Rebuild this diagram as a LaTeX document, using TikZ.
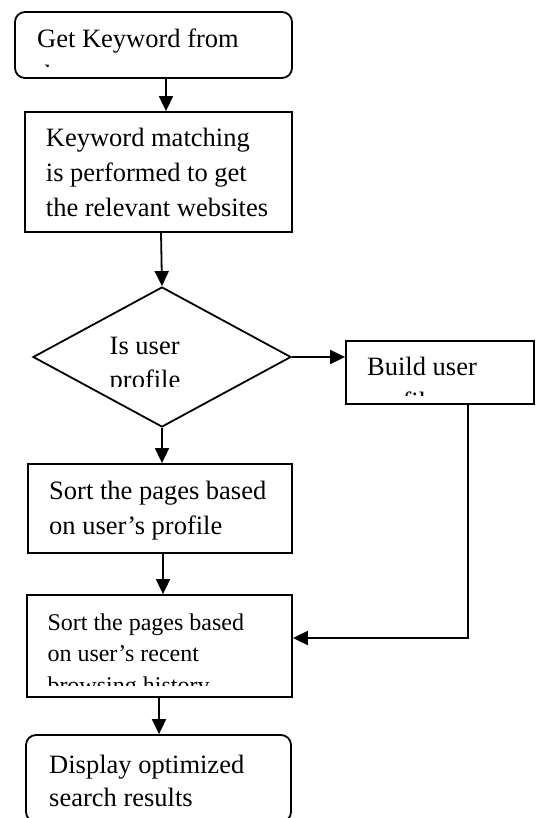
\documentclass[tikz,border=0pt]{standalone}
\usepackage{fontspec}
\setmainfont{Liberation Serif}
\usetikzlibrary{arrows.meta,shapes.geometric}
\begin{document}
\begin{tikzpicture}[x=1pt,y=-1pt,
  box/.style={draw, line width=1.8pt, inner sep=0pt, rectangle},
  rbox/.style={box, rounded corners=10pt},
  dia/.style={draw, diamond, line width=1.8pt, inner sep=0pt},
  txt/.style={inner sep=0pt, anchor=base west, font=\fontsize{26.5}{30}\selectfont},
  stxt/.style={txt, font=\fontsize{24}{28}\selectfont},
  arr/.style={line width=1.8pt, -{Triangle[length=15pt,width=14pt]}}]
\clip (0,0) rectangle (536,818);
\fill[white] (0,0) rectangle (536,818);

% boxes
\node[rbox, minimum width=277pt, minimum height=66pt] (b1) at (153.5,45) {};
\node[box, minimum width=267pt, minimum height=120pt] (b2) at (158.5,172) {};
\node[dia, minimum width=258pt, minimum height=140pt] (d) at (162,357) {};
\node[box, minimum width=188pt, minimum height=63pt] (bu) at (440,372.5) {};
\node[box, minimum width=264pt, minimum height=89pt] (b3) at (160,508.5) {};
\node[box, minimum width=265pt, minimum height=102pt] (b4) at (159.5,646) {};
\node[rbox, minimum width=265pt, minimum height=87pt] (b5) at (158.5,778.5) {};

% texts
\node[txt] (t1a) at (37,48) {Get Keyword from};
\begin{scope}
  \clip (20,20) rectangle (280,67);
  \node[txt] (t1b) at (37,84) {the user};
\end{scope}
\node[txt] (t2a) at (45.7,146.7) {Keyword matching};
\node[txt] (t2b) at (45.7,182) {is performed to get};
\node[txt] (t2c) at (45.7,217) {the relevant websites};
\node[txt] (tda) at (109.5,354) {Is user};
\begin{scope}
  \clip (60,300) rectangle (260,386);
  \node[txt] (tdb) at (109.5,388.5) {profile};
\end{scope}
\node[txt] (tua) at (367,375.7) {Build user};
\begin{scope}
  \clip (350,345) rectangle (525,395.5);
  \node[txt] (tub) at (367,410.7) {profile};
\end{scope}
\node[txt] (t3a) at (49,499) {Sort the pages based};
\node[txt] (t3b) at (49,534) {on user’s profile};
\node[stxt] (t4a) at (47.3,630) {Sort the pages based};
\node[stxt] (t4b) at (47.3,661.8) {on user’s recent};
\begin{scope}
  \clip (30,600) rectangle (285,685);
  \node[stxt] (t4c) at (47.3,693.5) {browsing history};
\end{scope}
\node[txt] (t5a) at (49,773) {Display optimized};
\node[txt] (t5b) at (49,806) {search results};

% connectors
\draw[arr] ([xshift=12.5pt]b1.south) -- ([xshift=7.5pt]b2.north);
\draw[arr] ([xshift=2.5pt]b2.south) -- (d.north);
\draw[arr] (d.east) -- (d.east -| bu.west);
\draw[arr] (d.south) -- (d.south |- b3.north);
\draw[arr] ([xshift=3pt]b3.south) -- ([xshift=3pt]b3.south |- b4.north);
\draw[arr] ([xshift=-0.5pt]b4.south) -- ([xshift=-0.5pt]b4.south |- b5.north);
\draw[arr] ([xshift=28pt]bu.south) |- ([yshift=8pt]b4.east);
\end{tikzpicture}
\end{document}
